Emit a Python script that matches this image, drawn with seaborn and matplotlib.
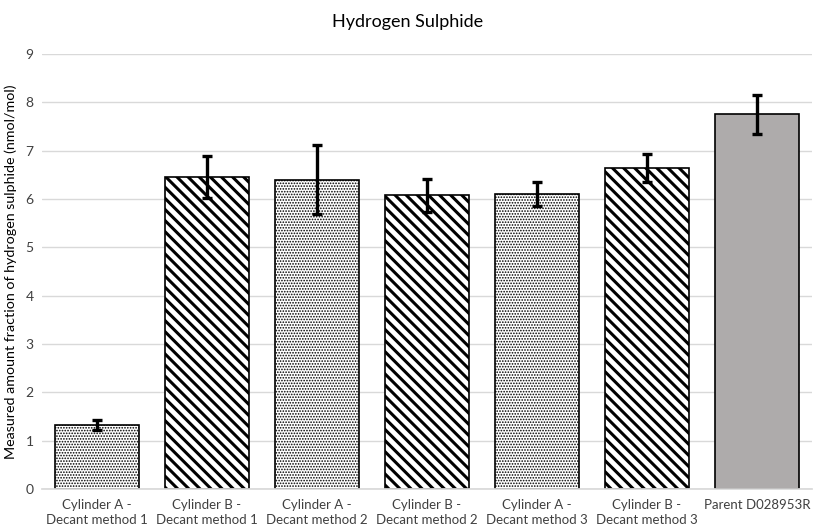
import matplotlib
matplotlib.use("Agg")
import matplotlib.pyplot as plt
import seaborn as sns
import pandas as pd

categories = ["Cylinder A -\nDecant method 1", "Cylinder B -\nDecant method 1",
              "Cylinder A -\nDecant method 2", "Cylinder B -\nDecant method 2",
              "Cylinder A -\nDecant method 3", "Cylinder B -\nDecant method 3",
              "Parent D028953R"]
values = [1.32, 6.45, 6.40, 6.08, 6.10, 6.64, 7.75]
errors = [0.10, 0.43, 0.72, 0.34, 0.25, 0.29, 0.40]
DOT = "......"
DIAG = "\\\\\\"
hatches = [DOT, DIAG, DOT, DIAG, DOT, DIAG, ""]
facecolors = ["white", "white", "white", "white", "white", "white", "#AEABAB"]

sns.set_theme(style="white")
plt.rcParams['font.family'] = ['Lato', 'DejaVu Sans']
plt.rcParams['hatch.linewidth'] = 2.2
plt.rcParams['hatch.color'] = 'black'

df = pd.DataFrame({"cat": categories, "val": values})

fig = plt.figure(figsize=(8.15, 5.30), dpi=100)
ax = fig.add_axes([42/815, 1 - 489/530, 770/815, (489-54)/530])

sns.barplot(data=df, x="cat", y="val", ax=ax, width=0.77, color="white",
            edgecolor="black", linewidth=1.2, errorbar=None)
for p, h, fc in zip(ax.patches, hatches, facecolors):
    p.set_facecolor(fc)
    p.set_hatch(h)
    p.set_edgecolor("black")
    p.set_zorder(2)
    if h == DOT and hasattr(p, "set_hatch_linewidth"):
        p.set_hatch_linewidth(0.8)
    if h == DIAG and hasattr(p, "set_hatch_linewidth"):
        p.set_hatch_linewidth(2.2)

ax.errorbar(range(len(values)), values, yerr=errors, fmt="none", ecolor="black",
            elinewidth=2.4, capsize=3.5, capthick=2.4, zorder=3)

ax.set_ylim(0, 9)
ax.set_xlim(-0.5, len(values) - 0.5)
ax.set_yticks(range(0, 10))
ax.yaxis.grid(True, color="#D9D9D9", linewidth=1)
ax.set_axisbelow(True)
for s in ["top", "right", "left"]:
    ax.spines[s].set_visible(False)
ax.spines["bottom"].set_color("#D9D9D9")
ax.tick_params(axis="both", length=0, labelsize=9.5, colors="#404040", pad=7)
ax.tick_params(axis="y", labelsize=10, pad=6)
ax.set_xlabel("")
ax.set_ylabel("Measured amount fraction of hydrogen sulphide (nmol/mol)",
              fontsize=10.3, color="black", labelpad=6)
for lbl in ax.get_xticklabels():
    lbl.set_verticalalignment("top")
    lbl.set_linespacing(1.35)
fig.text(0.5, 1 - 22 / 530, "Hydrogen Sulphide", ha="center",
         va="center", fontsize=13, color="black")

fig.savefig("out.png", dpi=100)
